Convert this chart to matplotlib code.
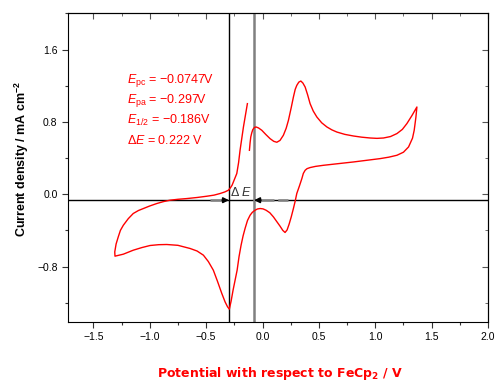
import matplotlib
matplotlib.use("Agg")
import matplotlib.pyplot as plt
from matplotlib.ticker import MultipleLocator

plt.rcParams["mathtext.fontset"] = "custom"
plt.rcParams["mathtext.rm"] = "Liberation Sans"
plt.rcParams["mathtext.it"] = "Liberation Sans:italic"
plt.rcParams["mathtext.bf"] = "Liberation Sans:bold"
plt.rcParams["font.family"] = ["Liberation Sans", "DejaVu Sans"]

# Cyclic voltammogram (potential V vs FeCp2, current density mA/cm2)
potential = [-0.116, -0.110, -0.104, -0.095, -0.086, -0.072, -0.057, -0.035, -0.006, 0.030,
             0.067, 0.100, 0.127, 0.155, 0.185, 0.210, 0.230, 0.255, 0.274, 0.290,
             0.304, 0.322, 0.340, 0.358, 0.378, 0.400, 0.422, 0.450, 0.482, 0.525,
             0.571, 0.615, 0.659, 0.730, 0.807, 0.880, 0.955, 1.015, 1.073, 1.135,
             1.192, 1.240, 1.280, 1.325, 1.369,
             1.360, 1.345, 1.330, 1.295, 1.250, 1.192, 1.120, 1.043, 0.920, 0.807,
             0.670, 0.540, 0.470, 0.422, 0.395, 0.378, 0.362, 0.349, 0.327, 0.304,
             0.290, 0.274, 0.255, 0.236, 0.218, 0.200, 0.180, 0.156, 0.125, 0.097,
             0.065, 0.032, 0.005, -0.021, -0.045, -0.066, -0.090, -0.110, -0.133, -0.154,
             -0.172, -0.190, -0.208, -0.225, -0.243, -0.261, -0.278, -0.294, -0.310, -0.332,
             -0.361, -0.400, -0.436, -0.480, -0.524, -0.580, -0.642, -0.750, -0.849, -0.920,
             -0.997, -1.070, -1.146, -1.234, -1.308,
             -1.310, -1.298, -1.279, -1.260, -1.234, -1.190, -1.146, -1.100, -1.057, -1.000,
             -0.938, -0.880, -0.820, -0.750, -0.672, -0.580, -0.494, -0.430, -0.376, -0.335,
             -0.303, -0.285, -0.270, -0.250, -0.228, -0.212, -0.199, -0.184, -0.169, -0.152,
             -0.134]
current = [0.486, 0.570, 0.633, 0.680, 0.715, 0.738, 0.744, 0.733, 0.707, 0.660,
           0.615, 0.585, 0.575, 0.595, 0.652, 0.730, 0.818, 0.960, 1.075, 1.160,
           1.204, 1.240, 1.252, 1.230, 1.186, 1.100, 1.002, 0.920, 0.854, 0.790,
           0.744, 0.712, 0.688, 0.662, 0.644, 0.631, 0.622, 0.618, 0.622, 0.638,
           0.671, 0.717, 0.781, 0.870, 0.965,
           0.850, 0.707, 0.620, 0.523, 0.465, 0.431, 0.410, 0.394, 0.375, 0.357,
           0.338, 0.320, 0.308, 0.295, 0.283, 0.265, 0.230, 0.173, 0.090, 0.008,
           -0.075, -0.158, -0.250, -0.331, -0.395, -0.423, -0.400, -0.354, -0.300, -0.251,
           -0.205, -0.177, -0.162, -0.158, -0.163, -0.177, -0.200, -0.232, -0.290, -0.376,
           -0.460, -0.564, -0.690, -0.840, -0.950, -1.061, -1.180, -1.271, -1.245, -1.190,
           -1.097, -0.960, -0.840, -0.745, -0.674, -0.628, -0.600, -0.565, -0.556, -0.558,
           -0.567, -0.590, -0.619, -0.663, -0.685,
           -0.638, -0.550, -0.472, -0.400, -0.343, -0.270, -0.213, -0.180, -0.158, -0.130,
           -0.103, -0.082, -0.066, -0.056, -0.048, -0.036, -0.022, -0.010, 0.008, 0.025,
           0.044, 0.070, 0.099, 0.160, 0.229, 0.350, 0.486, 0.615, 0.744, 0.870,
           1.002]

E_pc = -0.0747
E_pa = -0.297
baseline = -0.066

xlim = (-1.725, 2.0)
ylim = (-1.41, 2.0)

fig = plt.figure(figsize=(4.96, 3.83), dpi=100)
ax = fig.add_axes([0.137, 0.160, 0.847, 0.805])

ax.plot(potential, current, color="#ff0000", lw=1.0, zorder=3)
ax.axhline(baseline, color="black", lw=1.0, zorder=2)
ax.axvline(E_pa, color="black", lw=1.0, zorder=2)
ax.axvline(E_pc, color="#808080", lw=1.8, zorder=2)

# Delta E dimension arrows: gray dashed shafts with black heads
ax.plot([E_pa - 0.17, E_pa - 0.04], [baseline, baseline], color="#808080", lw=1.8,
        ls=(0, (6, 1.5)), zorder=4)
ax.plot([E_pc + 0.04, E_pc + 0.30], [baseline, baseline], color="#808080", lw=1.8,
        ls=(0, (6, 1.5)), zorder=4)
ax.annotate("", xy=(E_pa, baseline), xytext=(E_pa - 0.06, baseline),
            arrowprops=dict(arrowstyle="-|>", color="black", lw=1.2,
                            mutation_scale=8, shrinkA=0, shrinkB=0), zorder=5)
ax.annotate("", xy=(E_pc, baseline), xytext=(E_pc + 0.06, baseline),
            arrowprops=dict(arrowstyle="-|>", color="black", lw=1.2,
                            mutation_scale=8, shrinkA=0, shrinkB=0), zorder=5)
ax.text((E_pa + E_pc) / 2, baseline + 0.01, r"$\it{\Delta}$ $E$", color="#333333",
        fontsize=9, ha="center", va="bottom", zorder=5)

labels = [r"$E_{\rm pc}$ = −0.0747V", r"$E_{\rm pa}$ = −0.297V",
          r"$E_{1/2}$ = −0.186V", r"$\Delta E$ = 0.222 V"]
for i, s in enumerate(labels):
    ax.text(-1.205, 1.26 - i * 0.222, s, color="#ff0000", fontsize=9,
            ha="left", va="center")

ax.set_xlim(*xlim)
ax.set_ylim(*ylim)
ax.set_xticks([-1.5, -1.0, -0.5, 0.0, 0.5, 1.0, 1.5, 2.0])
ax.set_xticklabels(["−1.5", "−1.0", "−0.5", "0.0", "0.5", "1.0", "1.5", "2.0"])
ax.xaxis.set_minor_locator(MultipleLocator(0.25))
ax.set_yticks([-0.8, 0.0, 0.8, 1.6])
ax.set_yticklabels(["−0.8", "0.0", "0.8", "1.6"])
ax.yaxis.set_minor_locator(MultipleLocator(0.4))
ax.tick_params(which="both", direction="out", labelsize=7.5, width=0.8,
               top=False, right=False, color="#333333")
ax.tick_params(which="major", length=4)
ax.tick_params(which="minor", length=2.5)

sec = ax.secondary_xaxis("top")
sec.xaxis.set_major_locator(MultipleLocator(0.5))
sec.xaxis.set_minor_locator(MultipleLocator(0.25))
sec.tick_params(which="both", direction="in", labeltop=False, color="#555555")
sec.tick_params(which="major", length=4)
sec.tick_params(which="minor", length=2.5)
secy = ax.secondary_yaxis("right")
secy.yaxis.set_major_locator(MultipleLocator(0.8))
secy.yaxis.set_minor_locator(MultipleLocator(0.4))
secy.tick_params(which="both", direction="in", labelright=False, color="#555555")
secy.tick_params(which="major", length=4)
secy.tick_params(which="minor", length=2.5)

fig.text(0.565, 0.026, r"Potential with respect to FeCp$_\mathbf{2}$ / V", color="#ff0000",
         fontsize=9, fontweight="bold", ha="center", va="center",
         family=["DejaVu Sans"], math_fontfamily="dejavusans")
fig.text(0.044, 0.585, r"Current density / mA cm$^\mathbf{-2}$", color="black",
         fontsize=9, fontweight="bold", ha="center", va="center", rotation=90)

fig.savefig("out.png", dpi=100)
